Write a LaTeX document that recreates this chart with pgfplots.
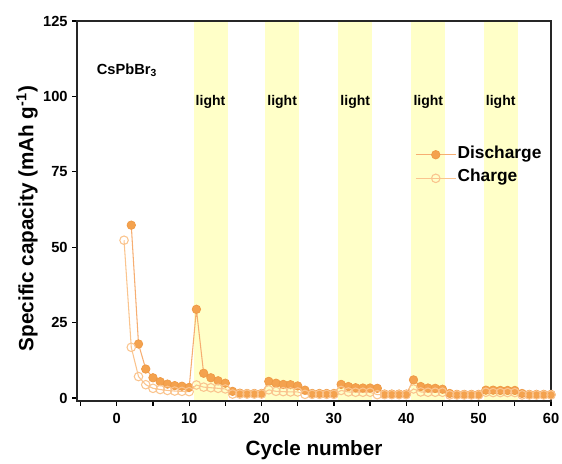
\documentclass[border=0pt]{standalone}
\usepackage{fontspec}
\setmainfont{Liberation Sans}
\usepackage{pgfplots}
\pgfplotsset{compat=1.18}
\definecolor{dis}{HTML}{F4A24E}
\definecolor{disedge}{HTML}{EE9944}
\definecolor{disline}{HTML}{F6AE72}
\definecolor{chg}{HTML}{FAC48E}
\definecolor{band}{HTML}{FFFFC8}
\begin{document}
\begin{tikzpicture}
\begin{axis}[
  set layers,
  scale only axis, width=355.5pt, height=285pt,
  xmin=-5.5, xmax=60, ymin=-1, ymax=125,
  xtick={0,10,...,60}, minor xtick={-5,5,...,55},
  ytick={0,25,...,125},
  tick align=outside, xtick pos=bottom, ytick pos=left,
  major tick length=3.5pt, minor tick length=3.5pt,
  every tick/.style={black, line width=0.9pt},
  axis line style={line width=1.1pt, black!85},
  /pgf/number format/assume math mode=true,
  tick label style={font=\bfseries\fontsize{11}{12}\selectfont},
  xticklabel style={yshift=-2pt},
  xlabel={\bfseries Cycle number},
  ylabel={\bfseries Specific capacity (mAh g\textsuperscript{-1})},
  xlabel style={font=\fontsize{15.5}{17}\selectfont, at={(axis description cs:0.5,-0.129)}, anchor=center},
  ylabel style={font=\fontsize{15.5}{17}\selectfont, at={(axis description cs:-0.1055,0.48)}, anchor=center},
  legend style={at={(axis description cs:0.713,0.617)}, anchor=west, draw=none, fill=none,
    font=\bfseries\fontsize{13}{14}\selectfont, inner xsep=0pt, inner ysep=0pt, row sep=6.5pt,
    nodes={inner sep=1pt, text height=0.72em, text depth=0.2em}},
  legend cell align=left,
  legend image code/.code={\draw[mark repeat=2,mark phase=2] plot coordinates {(0pt,0pt) (15pt,0pt) (30pt,0pt)};},
  clip=false,
]
\begin{pgfonlayer}{axis background}
\fill[band] (axis cs:10.6,-1) rectangle (axis cs:15.3,125);
\fill[band] (axis cs:20.5,-1) rectangle (axis cs:25.2,125);
\fill[band] (axis cs:30.6,-1) rectangle (axis cs:35.3,125);
\fill[band] (axis cs:40.7,-1) rectangle (axis cs:45.4,125);
\fill[band] (axis cs:50.7,-1) rectangle (axis cs:55.4,125);
\end{pgfonlayer}
\pgfplotsinvokeforeach{12.95,22.85,32.95,43.05,53.05}{
  \node[font=\bfseries\fontsize{10.5}{12}\selectfont] at (axis cs:#1,98.2) {light};
}
\node[anchor=west, font=\bfseries\fontsize{11}{12}\selectfont] at (axis cs:-3.4,108.7) {CsPbBr\textsubscript{3}};

\addplot[disline, line width=0.8pt, mark=*, mark size=3.2pt, mark options={fill=dis, draw=disedge, line width=0.5pt}] coordinates {
(2,57.3)(3,17.9)(4,9.6)(5,6.7)(6,5.4)(7,4.6)(8,4.1)(9,3.9)(10,3.5)
(11,29.4)(12,8.2)(13,6.7)(14,5.7)(15,4.9)(16,2.2)(17,1.6)(18,1.5)(19,1.5)(20,1.5)
(21,5.5)(22,4.9)(23,4.5)(24,4.4)(25,4.0)(26,2.6)(27,1.5)(28,1.5)(29,1.5)(30,1.5)
(31,4.5)(32,3.8)(33,3.4)(34,3.3)(35,3.3)(36,3.2)(37,1.3)(38,1.3)(39,1.3)(40,1.3)
(41,6.0)(42,3.8)(43,3.3)(44,3.2)(45,2.9)(46,1.5)(47,1.2)(48,1.2)(49,1.2)(50,1.2)
(51,2.6)(52,2.6)(53,2.5)(54,2.5)(55,2.5)(56,1.5)(57,1.2)(58,1.2)(59,1.2)(60,1.2)
};
\addlegendentry{Discharge}
\addplot[chg, line width=0.8pt, mark=o, mark size=3.2pt, mark options={fill=white, draw=chg, line width=0.8pt}] coordinates {
(1,52.3)(2,16.8)(3,7.1)(4,4.4)(5,3.2)(6,2.8)(7,2.5)(8,2.3)(9,2.2)(10,2.1)
(11,4.3)(12,3.6)(13,3.4)(14,3.2)(15,3.0)(16,1.3)(17,1.3)(18,1.3)(19,1.3)(20,1.3)
(21,2.7)(22,2.2)(23,2.1)(24,2.0)(25,2.0)(26,1.2)(27,1.2)(28,1.2)(29,1.2)(30,1.2)
(31,2.5)(32,2.0)(33,1.9)(34,1.9)(35,1.9)(36,1.1)(37,1.1)(38,1.1)(39,1.1)(40,1.1)
(41,3.0)(42,2.0)(43,1.9)(44,1.9)(45,1.9)(46,1.0)(47,1.0)(48,1.0)(49,1.0)(50,1.0)
(51,1.9)(52,1.8)(53,1.8)(54,1.8)(55,1.8)(56,1.0)(57,1.0)(58,1.0)(59,1.0)(60,1.0)
};
\addlegendentry{Charge}
\end{axis}
\path (current axis.south west) ++(-57.75pt,-47.25pt) coordinate (bbsw);
\path (current axis.north east) ++(8.25pt,15.75pt) coordinate (bbne);
\pgfresetboundingbox
\path[use as bounding box] (bbsw) rectangle (bbne);
\end{tikzpicture}
\end{document}
